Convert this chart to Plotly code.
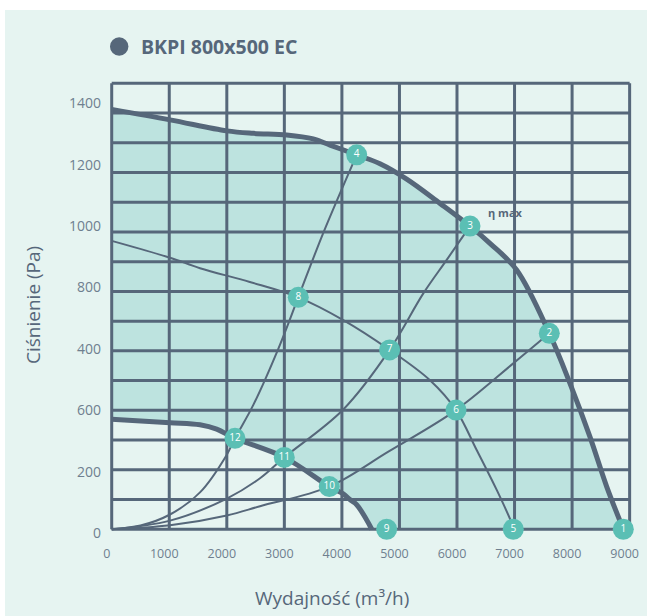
import numpy as np
import plotly.graph_objects as go

# ---------------- data ----------------
# Fan curve at full speed (airflow m3/h, pressure Pa)
upper_q = [0, 1013, 2000, 2461, 3041, 3503, 3793, 4257, 4662, 5126, 5705, 6226, 6573, 7037, 7604, 7963, 8311, 8601, 8890]
upper_p = [1367, 1333, 1297, 1289, 1284, 1271, 1251, 1219, 1190, 1140, 1061, 987, 931, 844, 638, 475, 301, 139, 0]

# Fan curve at minimum speed
lower_q = [0, 1013, 1534, 1824, 2142, 2999, 3781, 4024, 4150, 4257, 4431, 4518]
lower_p = [358, 347, 340, 326, 296, 234, 139, 115, 95, 80, 30, 0]

# Intermediate speed curve (8 -> 7 -> 6 -> 5)
mid_q = [0, 1013, 1534, 2400, 3242, 4024, 4829, 5531, 5983, 6342, 6690, 6950, 6978]
mid_p = [939, 884, 850, 805, 755, 681, 584, 485, 388, 258, 128, 20, 0]

# System curves from the origin
sysA_q = [0, 500, 1013, 1534, 1998, 2142, 2461, 2900, 3242, 3677, 4257]
sysA_p = [0, 12, 48, 120, 242, 296, 405, 590, 755, 965, 1219]
sysB_q = [0, 1013, 2000, 2577, 2999, 4024, 4829, 5415, 5821, 6226]
sysB_p = [0, 28, 100, 166, 234, 390, 584, 768, 877, 987]
sysC_q = [0, 1013, 2000, 2577, 3781, 4800, 5983, 6978, 7604]
sysC_p = [0, 13, 45, 75, 139, 252, 388, 540, 638]

# Operating points 1..12
point_labels = [str(i) for i in range(1, 13)]
point_q = [8890, 7604, 6226, 4257, 6978, 5983, 4829, 3242, 4778, 3781, 2999, 2142]
point_p = [0, 638, 987, 1219, 0, 388, 584, 755, 0, 139, 234, 296]

# Axis ticks
x_tickvals = [0, 1000, 2000, 3000, 4000, 5000, 6000, 7000, 8000, 9000]
y_tickvals = [0, 200, 400, 600, 800, 1000, 1200, 1400]
y_ticktext = ["0", "200", "600", "400", "800", "1000", "1200", "1400"]

series_name = "BKPI 800x500 EC"

# ---------------- style ----------------
W, H = 652, 616
ML, MR, MT, MB = 104, 15, 75, 80
PW, PH = W - ML - MR, H - MT - MB

SLATE = "#56677a"
TICK = "#6f7f8f"
TEAL_FILL = "#bde3df"
CARD = "#e6f4f1"
MARKER = "#5bbfb4"
FONT = "Open Sans"

X_RANGE = [-134, 9128]
Y_RANGE = [-22, 1479]

# background grid (drawn over the fill, under the curves)
grid_x = np.arange(0, 9001, 1000)
grid_y = np.linspace(0, 1452, 16)


def paper_x(px):
    return (px - ML) / PW


def paper_y(py):
    return (H - MB - py) / PH


gx, gy = [], []
for v in grid_x:
    gx += [v, v, None]
    gy += [grid_y[0], grid_y[-1], None]
for v in grid_y:
    gx += [grid_x[0], grid_x[-1], None]
    gy += [v, v, None]

fig = go.Figure()

# operating area fill: under the full-speed curve, above the min-speed curve
fig.add_trace(go.Scatter(x=upper_q, y=upper_p, mode="lines", line=dict(width=0, shape="spline"),
                         fill="tozeroy", fillcolor=TEAL_FILL, hoverinfo="skip", showlegend=False))
fig.add_trace(go.Scatter(x=lower_q, y=lower_p, mode="lines", line=dict(width=0, shape="spline"),
                         fill="tozeroy", fillcolor=CARD, hoverinfo="skip", showlegend=False))

# grid
fig.add_trace(go.Scatter(x=gx, y=gy, mode="lines", line=dict(color=SLATE, width=3),
                         hoverinfo="skip", showlegend=False))

# thin curves
for q, p in [(sysA_q, sysA_p), (sysB_q, sysB_p), (sysC_q, sysC_p), (mid_q, mid_p)]:
    fig.add_trace(go.Scatter(x=q, y=p, mode="lines", line=dict(color=SLATE, width=2, shape="spline"),
                             showlegend=False))

# thick fan curves
for q, p in [(upper_q, upper_p), (lower_q, lower_p)]:
    fig.add_trace(go.Scatter(x=q, y=p, mode="lines", line=dict(color=SLATE, width=5, shape="spline"),
                             name=series_name, showlegend=False))

# numbered points
fig.add_trace(go.Scatter(x=point_q, y=point_p, mode="markers+text", text=point_labels,
                         textposition="middle center",
                         textfont=dict(color="white", size=10, family=FONT),
                         marker=dict(size=21, color=MARKER, line=dict(width=0)),
                         cliponaxis=False, showlegend=False))

annotations = [
    dict(x=point_q[2], y=point_p[2], xref="x", yref="y", text="<b>η max</b>", showarrow=False,
         xshift=35, yshift=14, font=dict(size=11, color=SLATE, family=FONT)),
    dict(x=paper_x(332), y=paper_y(598), xref="paper", yref="paper", text="Wydajność (m³/h)",
         showarrow=False, xanchor="center", yanchor="middle",
         font=dict(size=19, color=SLATE, family=FONT)),
    dict(x=paper_x(33), y=paper_y(305), xref="paper", yref="paper", text="Ciśnienie (Pa)",
         showarrow=False, textangle=-90, xanchor="center", yanchor="middle",
         font=dict(size=19, color=SLATE, family=FONT)),
    dict(x=paper_x(139), y=paper_y(46.5), xref="paper", yref="paper", text="<b>" + series_name + "</b>",
         showarrow=False, xanchor="left", yanchor="middle",
         font=dict(size=19.5, color=SLATE, family=FONT)),
]

shapes = [
    # card background
    dict(type="rect", xref="paper", yref="paper", layer="below",
         x0=paper_x(5), x1=paper_x(647), y0=paper_y(620), y1=paper_y(10),
         fillcolor=CARD, line=dict(width=0)),
    # legend dot
    dict(type="circle", xref="paper", yref="paper", xsizemode="pixel", ysizemode="pixel",
         xanchor=paper_x(119.2), yanchor=paper_y(46.5), x0=-9.2, x1=9.2, y0=-9.2, y1=9.2,
         fillcolor=SLATE, line=dict(width=0)),
]

fig.update_layout(
    width=W, height=H,
    margin=dict(l=ML, r=MR, t=MT, b=MB),
    paper_bgcolor="white",
    plot_bgcolor="rgba(0,0,0,0)",
    showlegend=False,
    annotations=annotations,
    shapes=shapes,
    font=dict(family=FONT, color=TICK),
)
fig.update_xaxes(range=X_RANGE, tickvals=x_tickvals, showgrid=False, zeroline=False, showline=False,
                 ticks="", ticklabelshift=-5, ticklabelstandoff=8,
                 tickfont=dict(size=12.5, color=TICK, family=FONT))
fig.update_yaxes(range=Y_RANGE, tickvals=y_tickvals, ticktext=y_ticktext, showgrid=False,
                 zeroline=False, showline=False, ticks="", ticklabelshift=4, ticklabelstandoff=2,
                 tickfont=dict(size=14, color=TICK, family=FONT))

fig.write_html("out.html")
